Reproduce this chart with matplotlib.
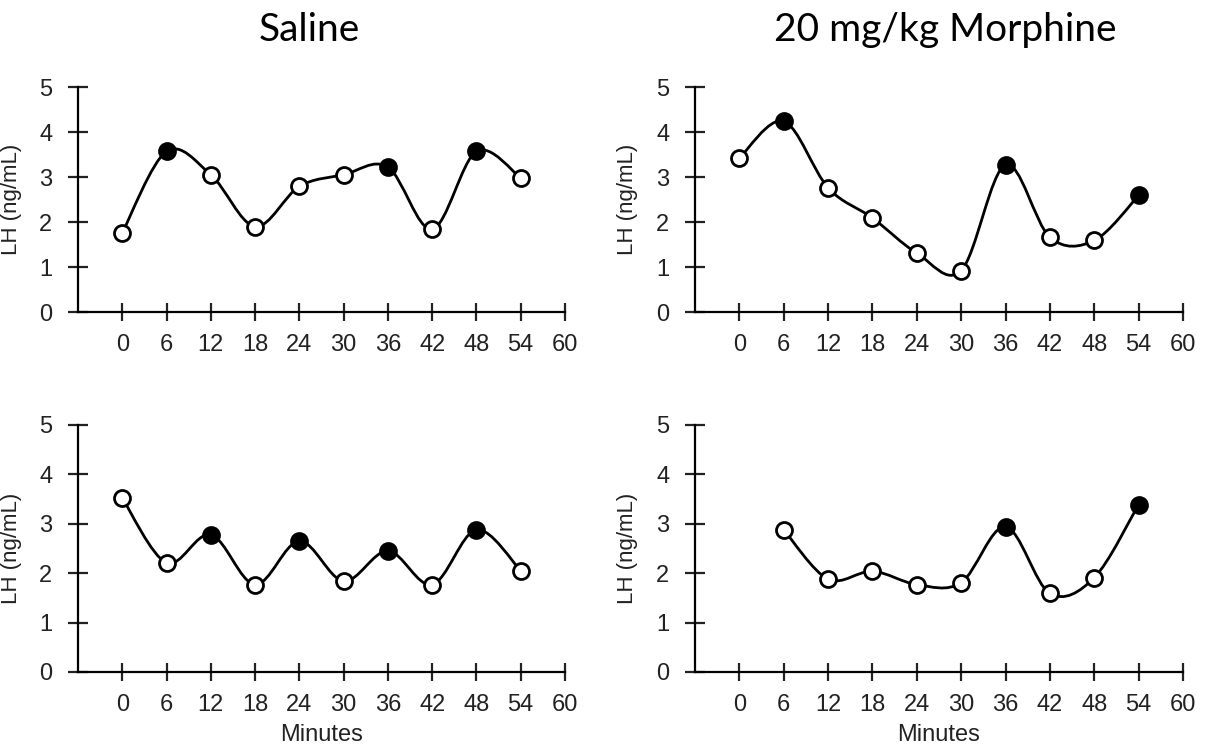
"""
LH pulses: saline vs 20 mg/kg morphine, two animals each.
Smoothed lines (Excel style), filled circles = pulse peaks.
"""
import numpy as np
import matplotlib
matplotlib.use("Agg")
import matplotlib.pyplot as plt
from matplotlib.path import Path
from matplotlib.patches import PathPatch
from matplotlib.transforms import blended_transform_factory

# --- data ---------------------------------------------------------------
minutes = [0, 6, 12, 18, 24, 30, 36, 42, 48, 54]
minutes_late = [6, 12, 18, 24, 30, 36, 42, 48, 54]

saline_a = [1.76, 3.57, 3.05, 1.90, 2.79, 3.05, 3.22, 1.84, 3.57, 2.98]
saline_a_peak = [0, 1, 0, 0, 0, 0, 1, 0, 1, 0]

morph_a = [3.42, 4.24, 2.76, 2.09, 1.31, 0.92, 3.27, 1.66, 1.59, 2.59]
morph_a_peak = [0, 1, 0, 0, 0, 0, 1, 0, 0, 1]

saline_b = [3.52, 2.21, 2.78, 1.77, 2.65, 1.84, 2.45, 1.77, 2.88, 2.05]
saline_b_peak = [0, 0, 1, 0, 1, 0, 1, 0, 1, 0]

morph_b = [2.88, 1.88, 2.04, 1.77, 1.81, 2.94, 1.59, 1.91, 3.39]
morph_b_peak = [0, 0, 0, 0, 0, 1, 0, 0, 1]

x_ticks = list(range(0, 61, 6))
y_ticks = [0, 1, 2, 3, 4, 5]

titles = ["Saline", "20 mg/kg Morphine"]
ylab = "LH (ng/mL)"
xlab = "Minutes"

W, H = 1212, 753
LW = 1.6
TXT = "#222222"


def smooth_path(x, y):
    """Catmull-Rom style bezier through the points (like Excel smoothed line)."""
    pts = np.column_stack([x, y]).astype(float)
    n = len(pts)
    verts = [pts[0]]
    codes = [Path.MOVETO]
    for i in range(n - 1):
        p0 = pts[i - 1] if i > 0 else pts[i]
        p1 = pts[i]
        p2 = pts[i + 1]
        p3 = pts[i + 2] if i + 2 < n else pts[i + 1]
        c1 = p1 + (p2 - p0) / 6.0
        c2 = p2 - (p3 - p1) / 6.0
        verts += [c1, c2, p2]
        codes += [Path.CURVE4] * 3
    return Path(verts, codes)


def panel(ax, x, y, peak):
    ax.add_patch(PathPatch(smooth_path(x, y), fill=False, lw=2.0,
                           edgecolor="black", zorder=3))
    for xi, yi, pk in zip(x, y, peak):
        ax.plot(xi, yi, "o", ms=11.5, mew=2.0, mec="black",
                mfc="black" if pk else "white", zorder=5, clip_on=False)

    ax.set_xlim(-6, 60)
    ax.set_ylim(0, 5)
    ax.set_xticks(x_ticks)
    ax.set_yticks(y_ticks)
    ax.spines["top"].set_visible(False)
    ax.spines["right"].set_visible(False)
    for s in ("left", "bottom"):
        ax.spines[s].set_linewidth(LW)
    ax.tick_params(axis="both", direction="inout", width=LW, labelsize=17,
                   colors=TXT)
    ax.tick_params(axis="y", length=15, pad=11)
    ax.tick_params(axis="x", length=13, pad=9)


plt.rcParams["font.family"] = ["Liberation Sans", "DejaVu Sans"]

fig = plt.figure(figsize=(W / 100, H / 100), dpi=100)

# axes boxes in pixels: (left, right, top, bottom)
boxes = [(78, 565, 87, 312), (695, 1183, 87, 312),
         (78, 565, 425, 672), (695, 1183, 425, 672)]
series = [(minutes, saline_a, saline_a_peak),
          (minutes, morph_a, morph_a_peak),
          (minutes, saline_b, saline_b_peak),
          (minutes_late, morph_b, morph_b_peak)]

axes = []
for (l, r, t, b), (x, y, pk) in zip(boxes, series):
    ax = fig.add_axes([l / W, 1 - b / H, (r - l) / W, (b - t) / H])
    panel(ax, x, y, pk)
    axes.append(ax)

for i, ax in enumerate(axes):
    ax.set_ylabel(ylab, fontsize=16, color=TXT)
    xpix = 22 if i % 2 == 0 else 638
    ax.yaxis.set_label_coords(
        xpix / W, 0.5,
        transform=blended_transform_factory(fig.transFigure, ax.transAxes))
    if i >= 2:
        ax.set_xlabel(xlab, fontsize=17, color=TXT)
        ax.xaxis.set_label_coords(
            0.5, 1 - 735 / H,
            transform=blended_transform_factory(ax.transAxes, fig.transFigure))
        ax.xaxis.label.set_va("center")

fig.text(309 / W, 1 - 30 / H, titles[0], ha="center", va="center",
         fontsize=28, family="Lato", color="black")
fig.text(945 / W, 1 - 30 / H, titles[1], ha="center", va="center",
         fontsize=28, family="Lato", color="black")

fig.savefig("out.png", dpi=100, facecolor="white")
